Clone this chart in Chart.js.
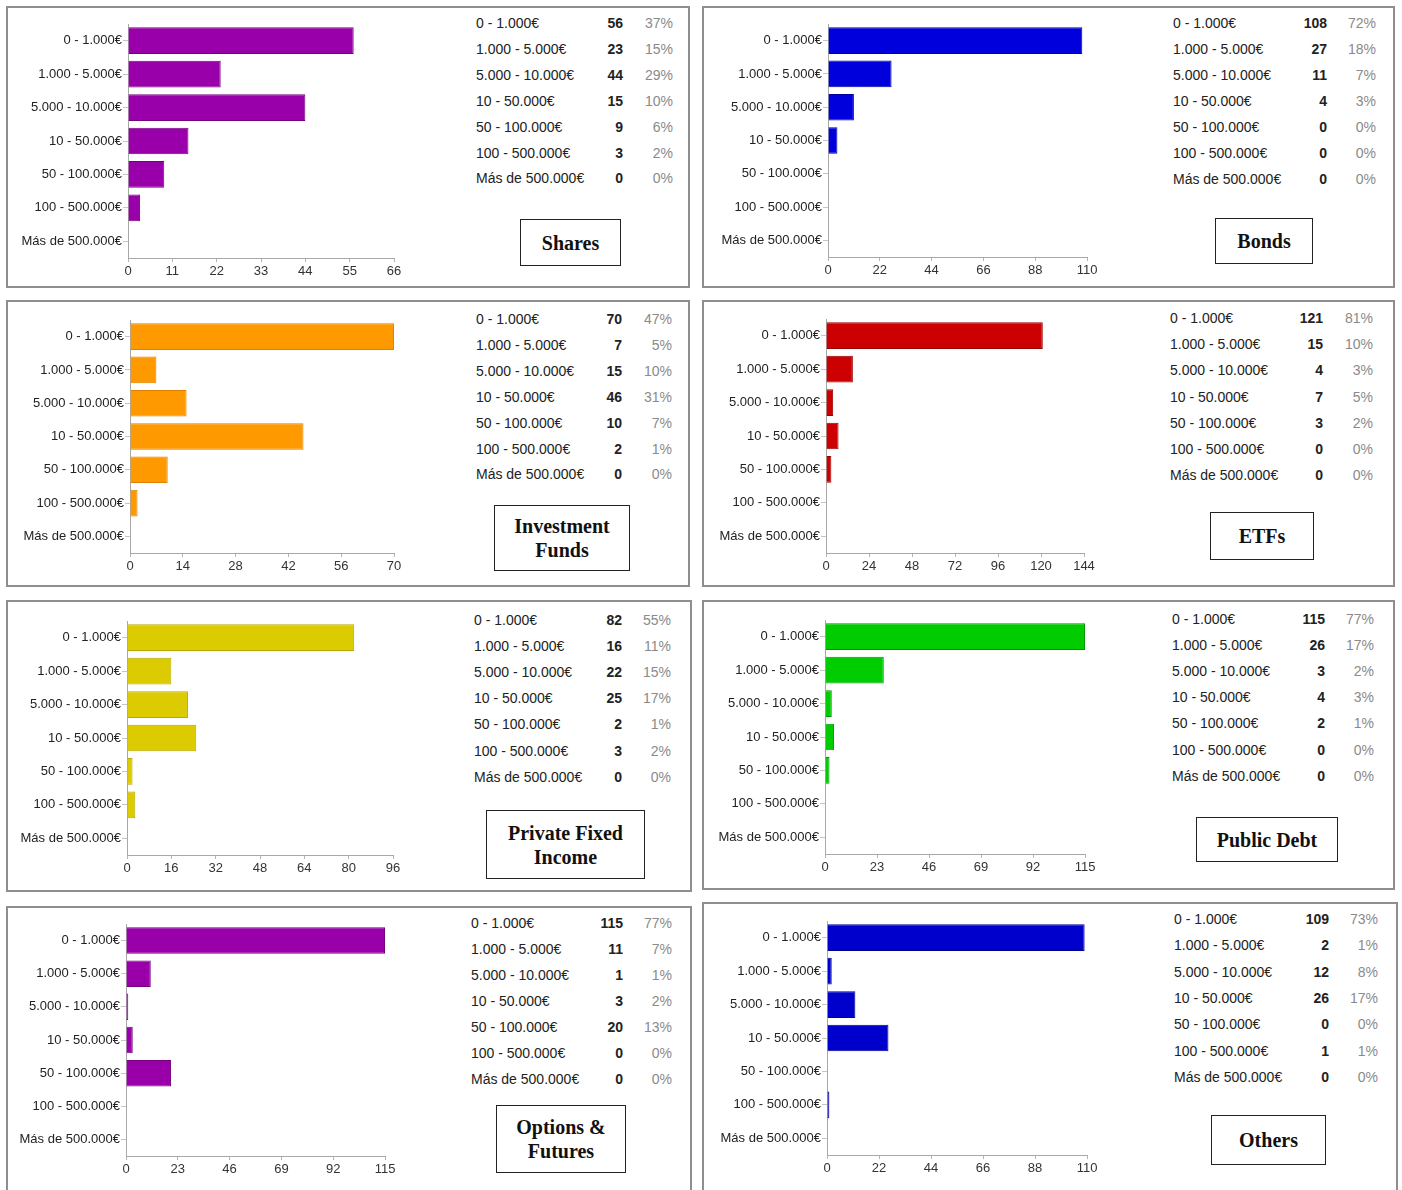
<!DOCTYPE html>
<html>
<head>
<meta charset="utf-8">
<script src="https://cdn.jsdelivr.net/npm/chart.js@4.4.1/dist/chart.umd.min.js"></script>
<style>
  html, body { margin: 0; padding: 0; background: #fff; }
  body { position: relative; width: 1402px; height: 1190px; overflow: hidden; font-family: 'Liberation Sans', Arial, sans-serif; }
  .panel { position: absolute; box-sizing: border-box; border: 2px solid #8e8e8e; }
  .plot { position: absolute; }
  .cell { position: absolute; height: 18px; line-height: 18px; font-size: 14px; color: #222; white-space: nowrap; }
  .num { font-weight: bold; text-align: right; width: 50px; }
  .pct { color: #8a8a8a; text-align: right; width: 50px; }
  .title { position: absolute; box-sizing: border-box; border: 1.5px solid #222; display: flex; align-items: center; justify-content: center; text-align: center; font: bold 20px/24px 'Liberation Serif', 'Times New Roman', serif; color: #111; }
</style>
</head>
<body>
<script>
const categories = ['0 - 1.000€', '1.000 - 5.000€', '5.000 - 10.000€', '10 - 50.000€', '50 - 100.000€', '100 - 500.000€', 'Más de 500.000€'];

const sharesCounts = [56, 23, 44, 15, 9, 3, 0];
const sharesPct = [37, 15, 29, 10, 6, 2, 0];
const sharesTicks = [0, 11, 22, 33, 44, 55, 66];

const bondsCounts = [108, 27, 11, 4, 0, 0, 0];
const bondsPct = [72, 18, 7, 3, 0, 0, 0];
const bondsTicks = [0, 22, 44, 66, 88, 110];

const fundsCounts = [70, 7, 15, 46, 10, 2, 0];
const fundsPct = [47, 5, 10, 31, 7, 1, 0];
const fundsTicks = [0, 14, 28, 42, 56, 70];

const etfsCounts = [121, 15, 4, 7, 3, 0, 0];
const etfsPct = [81, 10, 3, 5, 2, 0, 0];
const etfsTicks = [0, 24, 48, 72, 96, 120, 144];

const privateCounts = [82, 16, 22, 25, 2, 3, 0];
const privatePct = [55, 11, 15, 17, 1, 2, 0];
const privateTicks = [0, 16, 32, 48, 64, 80, 96];

const debtCounts = [115, 26, 3, 4, 2, 0, 0];
const debtPct = [77, 17, 2, 3, 1, 0, 0];
const debtTicks = [0, 23, 46, 69, 92, 115];

const optionsCounts = [115, 11, 1, 3, 20, 0, 0];
const optionsPct = [77, 7, 1, 2, 13, 0, 0];
const optionsTicks = [0, 23, 46, 69, 92, 115];

const othersCounts = [109, 2, 12, 26, 0, 1, 0];
const othersPct = [73, 1, 8, 17, 0, 1, 0];
const othersTicks = [0, 22, 44, 66, 88, 110];

// box: panel frame, plot: [axis x, top, max x, bottom], table: [x, first row y, row step, count right, pct right]
const panels = [
  { title: ['Shares'], counts: sharesCounts, pct: sharesPct, ticks: sharesTicks, color: '#9900a9', edge: '#74007f',
    box: [6, 6, 690, 288], plot: [128, 24, 394, 258], table: [476, 23, 25.9, 623, 673], titleBox: [520, 219, 621, 266] },
  { title: ['Bonds'], counts: bondsCounts, pct: bondsPct, ticks: bondsTicks, color: '#0000dd', edge: '#0000a0',
    box: [702, 6, 1395, 288], plot: [828, 24, 1087, 257], table: [1173, 23, 26, 1327, 1376], titleBox: [1215, 218, 1313, 264] },
  { title: ['Investment', 'Funds'], counts: fundsCounts, pct: fundsPct, ticks: fundsTicks, color: '#ff9900', edge: '#e08000',
    box: [6, 300, 690, 587], plot: [130, 320, 394, 553], table: [476, 319, 25.9, 622, 672], titleBox: [494, 505, 630, 571] },
  { title: ['ETFs'], counts: etfsCounts, pct: etfsPct, ticks: etfsTicks, color: '#cc0000', edge: '#990000',
    box: [702, 300, 1395, 587], plot: [826, 319, 1084, 553], table: [1170, 318, 26.2, 1323, 1373], titleBox: [1210, 512, 1314, 560] },
  { title: ['Private Fixed', 'Income'], counts: privateCounts, pct: privatePct, ticks: privateTicks, color: '#dccb00', edge: '#b8a800',
    box: [6, 600, 692, 892], plot: [127, 621, 393, 855], table: [474, 620, 26.1, 622, 671], titleBox: [486, 810, 645, 879] },
  { title: ['Public Debt'], counts: debtCounts, pct: debtPct, ticks: debtTicks, color: '#00cc00', edge: '#009900',
    box: [702, 600, 1395, 890], plot: [825, 620, 1085, 854], table: [1172, 619, 26.1, 1325, 1374], titleBox: [1196, 817, 1338, 862] },
  { title: ['Options &', 'Futures'], counts: optionsCounts, pct: optionsPct, ticks: optionsTicks, color: '#9900a9', edge: '#74007f',
    box: [6, 906, 692, 1200], plot: [126, 924, 385, 1156], table: [471, 923, 26, 623, 672], titleBox: [496, 1105, 626, 1173] },
  { title: ['Others'], counts: othersCounts, pct: othersPct, ticks: othersTicks, color: '#0000cc', edge: '#000090',
    box: [702, 902, 1398, 1200], plot: [827, 921, 1087, 1155], table: [1174, 919, 26.3, 1329, 1378], titleBox: [1211, 1115, 1326, 1165] },
];

const YW = 120;  // y axis width
const PT = 10;   // top padding
const PR = 22;   // right padding
const XH = 26;   // x axis height
const tickFont = { family: "'Liberation Sans', Arial, sans-serif", size: 13 };

function place(el, x, y, w, h) {
  el.style.left = x + 'px';
  el.style.top = y + 'px';
  if (w !== undefined) el.style.width = w + 'px';
  if (h !== undefined) el.style.height = h + 'px';
  document.body.appendChild(el);
  return el;
}

function drawPanel(p) {
  const [bx0, by0, bx1, by1] = p.box;
  const frame = document.createElement('div');
  frame.className = 'panel';
  place(frame, bx0, by0, bx1 - bx0, by1 - by0);

  // chart
  const [ax, top, right, bottom] = p.plot;
  const wrap = document.createElement('div');
  wrap.className = 'plot';
  place(wrap, ax - YW, top - PT, right - ax + YW + PR, bottom - top + PT + XH);
  const canvas = document.createElement('canvas');
  wrap.appendChild(canvas);

  const t = p.ticks;
  new Chart(canvas, {
    type: 'bar',
    data: {
      labels: categories,
      datasets: [{
        data: p.counts,
        backgroundColor: p.color,
        borderColor: p.edge,
        borderWidth: 1,
        borderSkipped: 'start',
        barPercentage: 0.8,
        categoryPercentage: 1
      }]
    },
    options: {
      indexAxis: 'y',
      responsive: true,
      maintainAspectRatio: false,
      animation: false,
      layout: { padding: { top: PT, right: PR, left: 0, bottom: 0 } },
      plugins: { legend: { display: false }, tooltip: { enabled: false } },
      scales: {
        x: {
          type: 'linear',
          min: t[0],
          max: t[t.length - 1],
          ticks: { stepSize: t[1] - t[0], font: tickFont, color: '#333', padding: 2, maxRotation: 0 },
          grid: { drawOnChartArea: false, drawTicks: true, tickLength: 4, color: '#b5b5b5' },
          border: { display: true, color: '#a8a8a8' },
          afterFit: (s) => { s.height = XH; }
        },
        y: {
          ticks: { font: tickFont, color: '#222', padding: 1, autoSkip: false },
          grid: { drawOnChartArea: false, drawTicks: true, tickLength: 5, color: '#c5c5c5', offset: false },
          border: { display: true, color: '#a8a8a8' },
          afterFit: (s) => { s.width = YW; }
        }
      }
    }
  });

  // table
  const [tx, ty, step, numR, pctR] = p.table;
  categories.forEach((c, i) => {
    const y = ty + i * step - 9;
    const lab = document.createElement('div');
    lab.className = 'cell';
    lab.textContent = c;
    place(lab, tx, y);
    const n = document.createElement('div');
    n.className = 'cell num';
    n.textContent = p.counts[i];
    place(n, numR - 50, y);
    const pc = document.createElement('div');
    pc.className = 'cell pct';
    pc.textContent = p.pct[i] + '%';
    place(pc, pctR - 50, y);
  });

  // title box
  const [x0, y0, x1, y1] = p.titleBox;
  const tb = document.createElement('div');
  tb.className = 'title';
  tb.innerHTML = p.title.join('<br>');
  place(tb, x0, y0, x1 - x0, y1 - y0);
}

panels.forEach(drawPanel);
</script>
</body>
</html>
